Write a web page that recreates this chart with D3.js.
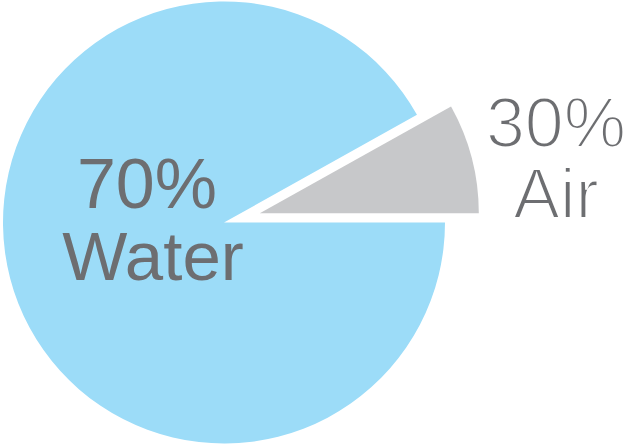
<!DOCTYPE html>
<html>
<head>
<meta charset="utf-8">
<script src="https://cdn.jsdelivr.net/npm/d3@7"></script>
<style>
  html, body { margin: 0; padding: 0; background: #fff; }
  svg { display: block; }
</style>
</head>
<body>
<svg id="chart" width="625" height="446"></svg>
<script>
// ---- data ----
const categories = ["Water", "Air"];
const percentLabels = ["70%", "30%"];
// angular share of each slice as drawn in the picture
const sliceShares = [91.9, 8.1];
const sliceColors = ["#9cdcf8", "#c7c8ca"];

// ---- layout ----
const W = 625, H = 446;
const cx = 224, cy = 222.5;
const rMain = 221, rPulled = 219;
const pullOut = 37;

const svg = d3.select("#chart");
const g = svg.append("g").attr("transform", `translate(${cx},${cy})`);

const pie = d3.pie()
  .sort(null)
  .value(d => d.v)
  .startAngle(Math.PI / 2)
  .endAngle(Math.PI / 2 + 2 * Math.PI);

const data = categories.map((c, i) => ({ c, v: sliceShares[i], i }));
const arcs = pie(data);

const arcGen = d3.arc().innerRadius(0);

g.selectAll("path.slice")
  .data(arcs)
  .join("path")
  .attr("class", "slice")
  .attr("fill", d => sliceColors[d.data.i])
  .attr("transform", d => {
    if (d.data.i === 0) return null;
    const mid = (d.startAngle + d.endAngle) / 2;
    return `translate(${Math.sin(mid) * pullOut},${-Math.cos(mid) * pullOut})`;
  })
  .attr("d", d => arcGen.outerRadius(d.data.i === 0 ? rMain : rPulled)(d));

// ---- labels ----
const textColor = "#6d6e71";

const water = svg.append("g")
  .attr("font-family", "'Liberation Sans', Arial, Helvetica, sans-serif")
  .attr("fill", textColor)
  .attr("text-anchor", "middle");
water.append("text").attr("x", 147).attr("y", 208).attr("font-size", 70).text(percentLabels[0]);
water.append("text").attr("x", 153).attr("y", 280).attr("font-size", 69).text(categories[0]);

const air = svg.append("g")
  .attr("font-family", "'Liberation Sans', Arial, Helvetica, sans-serif")
  .attr("fill", textColor)
  .attr("stroke", "#ffffff")
  .attr("stroke-width", 2.2)
  .attr("paint-order", "fill")
  .attr("text-anchor", "middle");
air.append("text").attr("x", 556).attr("y", 147).attr("font-size", 70).text(percentLabels[1]);
air.append("text").attr("x", 556).attr("y", 217.5).attr("font-size", 70).text(categories[1]);
</script>
</body>
</html>
